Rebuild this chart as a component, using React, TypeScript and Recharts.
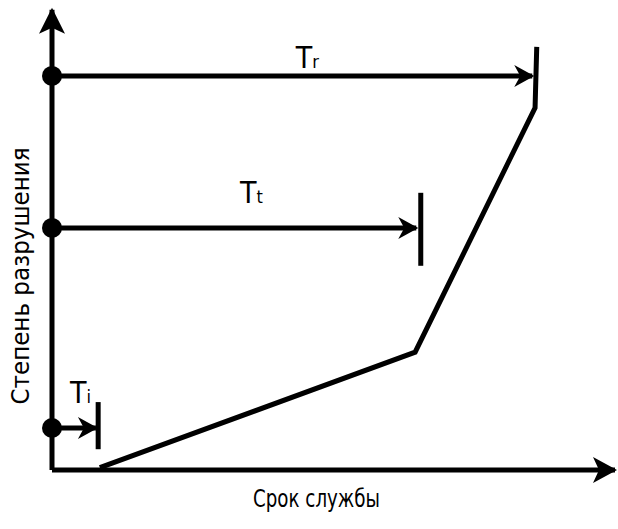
import { ComposedChart, Line, Scatter, XAxis, YAxis, ReferenceLine, ReferenceDot } from "recharts";

// schematic: degree of destruction vs service life
const xAxisLine = [{ x: 0, y: 0 }, { x: 100, y: 0 }];
const yAxisLine = [{ x: 0, y: 0 }, { x: 0, y: 99.6 }];
const wearCurve = [
  { x: 8.5, y: 0.5 },
  { x: 64.5, y: 25.5 },
  { x: 85.8, y: 78.4 },
  { x: 86.1, y: 91.6 },
];
const levels = [85.3, 52.4, 9.1];
const arrowEnds = [85.3, 64.7, 7.8];
const stopX = [null, 65.5, 8.2];
const stopTop = [null, 60.0, 14.7];
const stopBottom = [null, 44.2, 4.5];
const subscripts = ["r", "t", "i"];
const labelX = [43.3, 33.4, 3.2];
const labelY = [87.0, 57.8, 14.5];

const FONT = "'Liberation Sans Narrow', 'DejaVu Sans Condensed', Arial, sans-serif";

const arrowDot = (dir: string, big: boolean) => (p: any) => {
  const { cx, cy, index } = p;
  if (index !== 1) return <g key={`d${index}`} />;
  const l = big ? 22 : 18;
  const w = big ? 13 : 11;
  let pts = "";
  if (dir === "right") pts = `${cx + 2},${cy} ${cx - l},${cy - w} ${cx - l + 6},${cy} ${cx - l},${cy + w}`;
  if (dir === "up") pts = `${cx},${cy - 2} ${cx - w},${cy + l + 2} ${cx},${cy + l - 4} ${cx + w},${cy + l + 2}`;
  return <polygon key={`d${index}`} points={pts} fill="#000" />;
};

const tLabel = (sub: string) => (props: any) => {
  const vb = props.viewBox || {};
  return (
    <text x={vb.x} y={vb.y} fontFamily={FONT} fontSize={30} fill="#000">
      T<tspan fontSize={18}>{sub}</tspan>
    </text>
  );
};

export default function App() {
  return (
    <div>
      <style>{"body{margin:0;background:#fff}"}</style>
      <ComposedChart width={618} height={529} margin={{ top: 8, right: 3, left: 0, bottom: 0 }}>
        <XAxis
          type="number"
          dataKey="x"
          domain={[0, 100]}
          tick={false}
          axisLine={false}
          tickLine={false}
          height={59}
          label={{
            content: (p: any) => {
              const vb = p.viewBox;
              return (
                <text x={vb.x + 201} y={vb.y + 37} fontFamily={FONT} fontSize={25} textLength={127} lengthAdjust="spacingAndGlyphs" fill="#000">
                  Срок службы
                </text>
              );
            },
          }}
        />
        <YAxis
          type="number"
          dataKey="y"
          domain={[0, 100]}
          tick={false}
          axisLine={false}
          tickLine={false}
          width={52}
          label={{
            content: (p: any) => {
              const vb = p.viewBox;
              const cx = vb.x + 20;
              const cy = vb.y + 268;
              return (
                <text x={cx} y={cy} transform={`rotate(-90 ${cx} ${cy})`} textAnchor="middle" dominantBaseline="central" fontFamily={FONT} fontSize={25} textLength={257} lengthAdjust="spacingAndGlyphs" fill="#000">
                  Степень разрушения
                </text>
              );
            },
          }}
        />
        <Line data={xAxisLine} dataKey="y" stroke="#000" strokeWidth={5} dot={arrowDot("right", true)} isAnimationActive={false} />
        <Line data={yAxisLine} dataKey="y" stroke="#000" strokeWidth={5} dot={arrowDot("up", true)} isAnimationActive={false} />
        <Line data={wearCurve} dataKey="y" stroke="#000" strokeWidth={5} dot={false} strokeLinejoin="miter" isAnimationActive={false} />
        {levels.map((lv, i) => (
          <Line
            key={`a${i}`}
            data={[{ x: 0, y: lv }, { x: arrowEnds[i], y: lv }]}
            dataKey="y"
            stroke="#000"
            strokeWidth={5}
            dot={arrowDot("right", false)}
            isAnimationActive={false}
          />
        ))}
        {levels.map((lv, i) =>
          stopX[i] == null ? null : (
            <ReferenceLine
              key={`s${i}`}
              segment={[{ x: stopX[i], y: stopBottom[i] }, { x: stopX[i], y: stopTop[i] }]}
              stroke="#000"
              strokeWidth={5}
            />
          )
        )}
        <Scatter
          data={levels.map((lv) => ({ x: 0, y: lv }))}
          dataKey="y"
          isAnimationActive={false}
          shape={(p: any) => <circle cx={p.cx} cy={p.cy} r={10} fill="#000" />}
        />
        {subscripts.map((s, i) => (
          <ReferenceDot key={`l${i}`} x={labelX[i]} y={labelY[i]} r={0} fill="none" stroke="none" label={{ content: tLabel(s) }} />
        ))}
      </ComposedChart>
    </div>
  );
}
